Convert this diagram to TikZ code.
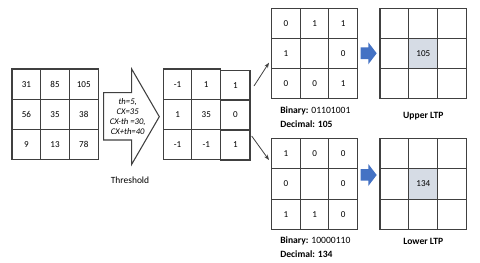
\documentclass[tikz,border=0pt]{standalone}
\usepackage{fontspec}
\setmainfont{Carlito}
\usetikzlibrary{arrows.meta}
\definecolor{gridline}{HTML}{404040}
\definecolor{ltpblue}{HTML}{4472C4}
\definecolor{cellfill}{HTML}{D6DCE5}
\tikzset{
  cell/.style={draw=gridline, line width=0.8pt, minimum width=#1, inner sep=0pt, outer sep=0pt, anchor=north west, font=\fontsize{6.8}{8}\selectfont},
  lbl/.style={inner sep=0pt, font=\fontsize{7.2}{9}\selectfont},
  thin arrow/.style={draw=gridline, line width=0.6pt, -{Stealth[length=4pt,width=3pt]}},
}
% grid macro: name, x0, y0, cell width, cell height, list of 9 entries
\newcommand\mygrid[6]{%
  \foreach \t [count=\i from 0] in {#6} {%
    \pgfmathtruncatemacro\cc{mod(\i,3)}%
    \pgfmathtruncatemacro\rr{div(\i,3)}%
    \node[cell=#4*0.75pt, minimum height=#5*0.75pt] (#1-\i) at ({#2+\cc*#4},{#3+\rr*#5}) {\t};
  }%
}
\begin{document}
\begin{tikzpicture}[x=0.75pt,y=-0.75pt]
\useasboundingbox (0,0) rectangle (480,262);
% input grid
\mygrid{in}{12}{69}{28.7}{30.3}{31,85,105,56,35,38,9,13,78}
% big threshold arrow
\draw[gridline, line width=0.8pt, fill=white] (103.7,92.7) -- (131.7,92.7) -- (131.7,69) -- (159.3,116.7) -- (131.7,164.3) -- (131.7,140) -- (103.7,140) -- cycle;
\node[align=center, inner sep=0pt, font=\fontsize{6.5}{7.6}\itshape] (params) at (127.7,116.5) {th=5,\\CX=35\\CX-th =30,\\CX+th=40};
\node[lbl, font=\fontsize{7.1}{9}\selectfont] (thr) at (130,180.7) {Threshold};
% thresholded grid
\node[cell=28.5*0.75pt, minimum height=30.3*0.75pt] (mid-0) at (163.3,69) {-1};
\node[cell=28.9*0.75pt, minimum height=30.3*0.75pt] (mid-1) at (191.8,69) {1};
\node[cell=29.3*0.75pt, minimum height=29.3*0.75pt] (mid-2) at (220.7,70.7) {1};
\node[cell=28.5*0.75pt, minimum height=30.3*0.75pt] (mid-3) at (163.3,99.3) {1};
\node[cell=28.9*0.75pt, minimum height=30.3*0.75pt] (mid-4) at (191.8,99.3) {35};
\node[cell=29.3*0.75pt, minimum height=30*0.75pt] (mid-5) at (220.7,100) {0};
\node[cell=28.5*0.75pt, minimum height=30.3*0.75pt] (mid-6) at (163.3,129.6) {-1};
\node[cell=28.9*0.75pt, minimum height=30.3*0.75pt] (mid-7) at (191.8,129.6) {-1};
\node[cell=29.3*0.75pt, minimum height=30*0.75pt] (mid-8) at (220.7,130) {1};
% upper binary grid
\mygrid{up}{271.7}{8.3}{28.6}{30.2}{0,1,1,1,,0,0,0,1}
% lower binary grid
\mygrid{lo}{271.7}{138.5}{28.6}{30.3}{1,0,0,0,,0,1,1,0}
% LTP grids
\mygrid{uL}{380}{8.3}{28.9}{30.2}{,,,,105,,,,}
\mygrid{lL}{380}{138.5}{28.9}{30.3}{,,,,134,,,,}
\fill[cellfill] (uL-4.north west) rectangle (uL-4.south east);
\node[cell=28.9*0.75pt, minimum height=30.2*0.75pt] (uLc) at (uL-4.north west) {105};
\fill[cellfill] (lL-4.north west) rectangle (lL-4.south east);
\node[cell=28.9*0.75pt, minimum height=30.3*0.75pt] (lLc) at (lL-4.north west) {134};
% connectors
\coordinate (upS) at (254,86);
\coordinate (upE) at (269,62.7);
\coordinate (loS) at (251.7,136);
\coordinate (loE) at (269,160);
\draw[thin arrow] (upS) -- (upE);
\draw[thin arrow] (loS) -- (loE);
% blue arrows
\fill[ltpblue] (360.7,47.3) -- (368.3,47.3) -- (368.3,42.3) -- (376.7,53.3) -- (368.3,64.3) -- (368.3,59) -- (360.7,59) -- cycle;
\fill[ltpblue] (360.7,169) -- (368.3,169) -- (368.3,164) -- (376.7,175) -- (368.3,186) -- (368.3,180.7) -- (360.7,180.7) -- cycle;
% labels
\node[lbl, anchor=west] (ubin) at (280,111) {\textbf{Binary:} 01101001};
\node[lbl, anchor=west] (udec) at (280,124) {\textbf{Decimal: 105}};
\node[lbl] (uname) at (423.3,116) {\textbf{Upper LTP}};
\node[lbl, anchor=west] (lbin) at (280,241) {\textbf{Binary:} 10000110};
\node[lbl, anchor=west] (ldec) at (280,254.3) {\textbf{Decimal: 134}};
\node[lbl] (lname) at (423.3,241) {\textbf{Lower LTP}};
\end{tikzpicture}
\end{document}
